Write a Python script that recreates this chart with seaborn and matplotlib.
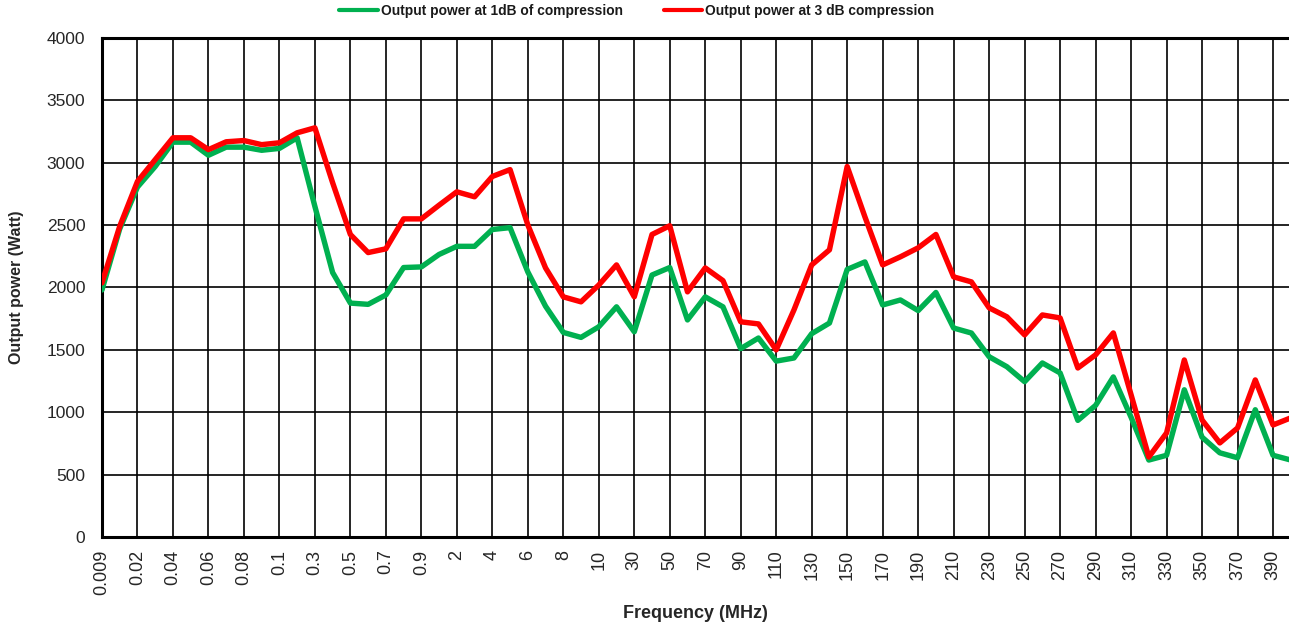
import matplotlib
matplotlib.use("Agg")
import matplotlib.pyplot as plt
import pandas as pd
import seaborn as sns

# Frequency categories (MHz), evenly spaced on the x axis
FREQUENCIES = [
    "0.009", "0.01", "0.02", "0.03", "0.04", "0.05", "0.06", "0.07", "0.08", "0.09",
    "0.1", "0.2", "0.3", "0.4", "0.5", "0.6", "0.7", "0.8", "0.9",
    "1", "2", "3", "4", "5", "6", "7", "8", "9",
    "10", "20", "30", "40", "50", "60", "70", "80", "90", "100",
    "110", "120", "130", "140", "150", "160", "170", "180", "190", "200",
    "210", "220", "230", "240", "250", "260", "270", "280", "290", "300",
    "310", "320", "330", "340", "350", "360", "370", "380", "390", "400",
]

POWER_1DB = [
    1980, 2470, 2805, 2970, 3165, 3165, 3060, 3125, 3125, 3100,
    3115, 3200, 2650, 2120, 1875, 1865, 1940, 2160, 2165,
    2265, 2330, 2330, 2465, 2480, 2125, 1850, 1640, 1600,
    1685, 1845, 1645, 2100, 2160, 1740, 1925, 1845, 1510, 1595,
    1410, 1435, 1630, 1715, 2145, 2205, 1860, 1900, 1815, 1960,
    1675, 1635, 1445, 1365, 1245, 1395, 1315, 935, 1055, 1283,
    960, 617, 655, 1180, 800, 675, 635, 1020, 655, 617,
]

POWER_3DB = [
    2037, 2490, 2850, 3025, 3200, 3200, 3105, 3168, 3178, 3145,
    3160, 3240, 3280, 2840, 2425, 2280, 2310, 2550, 2550,
    2660, 2767, 2727, 2890, 2945, 2502, 2157, 1925, 1885,
    2020, 2181, 1925, 2425, 2495, 1965, 2157, 2055, 1725, 1708,
    1500, 1820, 2181, 2302, 2970, 2566, 2181, 2246, 2318, 2425,
    2085, 2045, 1837, 1765, 1620, 1780, 1756, 1355, 1460, 1636,
    1140, 641, 834, 1419, 938, 754, 874, 1259, 898, 955,
]

LABEL_1DB = "Output power at 1dB of compression"
LABEL_3DB = "Output power at 3 dB compression"

sns.set_theme(style="white")
plt.rcParams["font.family"] = ["Liberation Sans", "DejaVu Sans"]

positions = list(range(len(FREQUENCIES)))
df = pd.concat([
    pd.DataFrame({"pos": positions, "power": POWER_1DB, "series": LABEL_1DB}),
    pd.DataFrame({"pos": positions, "power": POWER_3DB, "series": LABEL_3DB}),
])

fig = plt.figure(figsize=(12.89, 6.28), dpi=100)
ax = fig.add_axes([0.0791, 0.1449, 0.9209, 0.7946])

sns.lineplot(
    data=df, x="pos", y="power", hue="series", sort=False,
    palette={LABEL_1DB: "#00b050", LABEL_3DB: "#ff0000"},
    linewidth=3.9, ax=ax, legend=False, zorder=3,
)

# Grid only at the labelled (every other) categories
tick_pos = positions[::2]
ax.set_xticks(tick_pos)
ax.set_xticklabels(FREQUENCIES[::2], rotation=90, fontsize=13)
ax.set_xlim(0, 66.9)
ax.set_ylim(0, 4000)
ax.set_yticks(range(0, 4001, 500))
ax.tick_params(axis="y", labelsize=12.5, length=0, pad=12)
ax.tick_params(axis="x", length=0, pad=9)
ax.grid(True, color="black", linewidth=1.2)
ax.set_axisbelow(True)

for side in ["left", "bottom", "top"]:
    ax.spines[side].set_color("black")
    ax.spines[side].set_linewidth(2.2)
ax.spines["right"].set_visible(False)

ax.set_xlabel("Frequency (MHz)", fontsize=13, fontweight="bold", labelpad=7)
ax.set_ylabel("Output power (Watt)", fontsize=11.5, fontweight="bold", labelpad=16)

handles = [
    plt.Line2D([], [], color="#00b050", linewidth=3),
    plt.Line2D([], [], color="#ff0000", linewidth=3),
]
leg = fig.legend(
    handles, [LABEL_1DB, LABEL_3DB], loc="center", bbox_to_anchor=(0.494, 0.982),
    ncol=2, frameon=False, handlelength=2.8, handletextpad=0.2, columnspacing=3.0,
    prop={"size": 9.9, "weight": "bold"},
)
for text in leg.get_texts():
    text.set_color("#1a1a1a")

fig.savefig("out.png", dpi=100)
